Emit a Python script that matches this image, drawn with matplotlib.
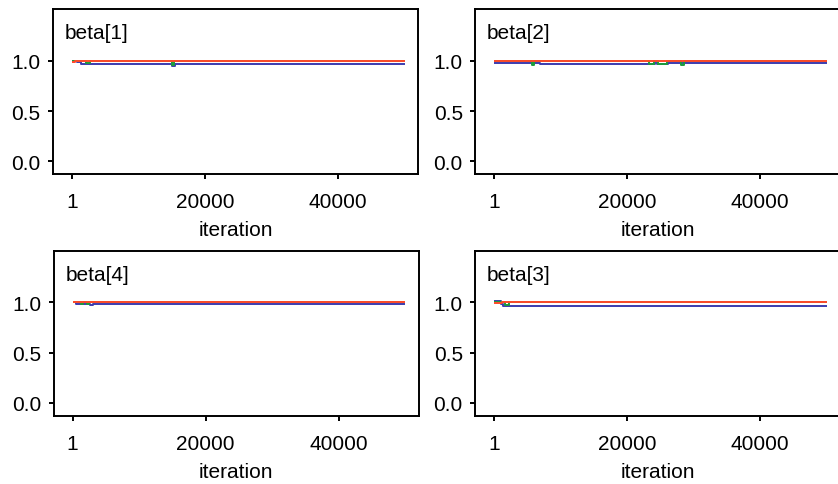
import matplotlib
matplotlib.use('Agg')
import matplotlib.pyplot as plt

plt.rcParams['font.family'] = ['Liberation Sans', 'DejaVu Sans']

# panel order as in the picture: top-left, top-right, bottom-left, bottom-right
panel_names = ['beta[1]', 'beta[2]', 'beta[4]', 'beta[3]']

# step traces: iteration where each value starts, and the value (last point = end of run)
b1_red_it = [1, 400, 50000]
b1_red = [0.985, 1.0, 1.0]
b1_blue_it = [1, 700, 1300, 15100, 15500, 50000]
b1_blue = [1.0, 0.985, 0.967, 0.948, 0.967, 0.967]
b1_green_it = [1, 2100, 2700, 15000, 15400, 50000]
b1_green = [1.0, 0.982, 1.0, 0.958, 1.0, 1.0]

b2_red_it = [1, 50000]
b2_red = [1.0, 1.0]
b2_blue_it = [1, 6900, 24200, 24500, 26200, 50000]
b2_blue = [0.98, 0.965, 1.0, 0.965, 0.98, 0.98]
b2_green_it = [1, 5700, 6000, 23300, 24100, 24600, 26000, 28100, 28500, 50000]
b2_green = [1.0, 0.958, 1.0, 0.967, 1.0, 0.967, 1.0, 0.958, 1.0, 1.0]

b4_red_it = [1, 50000]
b4_red = [1.0, 1.0]
b4_blue_it = [1, 500, 2600, 3000, 50000]
b4_blue = [1.0, 0.985, 0.972, 0.985, 0.985]
b4_green_it = [1, 1300, 1600, 2100, 2400, 50000]
b4_green = [1.0, 0.985, 1.0, 0.985, 1.0, 1.0]

b3_red_it = [1, 1200, 50000]
b3_red = [0.99, 1.0, 1.0]
b3_blue_it = [1, 1000, 1300, 50000]
b3_blue = [1.01, 0.985, 0.965, 0.965]
b3_green_it = [1, 1700, 2300, 50000]
b3_green = [1.0, 0.975, 1.0, 1.0]

traces = [
    [(b1_blue_it, b1_blue), (b1_green_it, b1_green), (b1_red_it, b1_red)],
    [(b2_blue_it, b2_blue), (b2_green_it, b2_green), (b2_red_it, b2_red)],
    [(b4_blue_it, b4_blue), (b4_green_it, b4_green), (b4_red_it, b4_red)],
    [(b3_blue_it, b3_blue), (b3_green_it, b3_green), (b3_red_it, b3_red)],
]
chain_colors = ['#3c3cae', '#1c9c3c', '#ff4a2a']   # blue, green, red (draw order)

x_ticks = [1, 20000, 40000]
y_ticks = [0.0, 0.5, 1.0]

FS = 15

fig = plt.figure(figsize=(8.38, 4.85), dpi=100, facecolor='white')

# axes boxes (fig fractions) — right column runs off the canvas like the source
boxes = [
    [0.0632, 0.6392, 0.4356, 0.3402],
    [0.5668, 0.6392, 0.4356, 0.3402],
    [0.0640, 0.1412, 0.4356, 0.3398],
    [0.5668, 0.1412, 0.4356, 0.3398],
]

for name, box, chains in zip(panel_names, boxes, traces):
    ax = fig.add_axes(box)
    for (its, vals), col in zip(chains, chain_colors):
        ax.plot(its, vals, color=col, lw=1.4, drawstyle='steps-post',
                solid_capstyle='butt')
    ax.set_xlim(-2850, 52000)
    ax.set_ylim(-0.126, 1.514)
    ax.set_xticks(x_ticks)
    ax.set_xticklabels([str(v) for v in x_ticks])
    ax.set_yticks(y_ticks)
    ax.set_yticklabels([f'{v:.1f}' for v in y_ticks])
    ax.tick_params(direction='out', length=3.8, width=1.4, labelsize=FS,
                   color='black')
    ax.tick_params(axis='x', pad=9.5)
    ax.tick_params(axis='y', pad=5)
    for sp in ax.spines.values():
        sp.set_linewidth(1.4)
        sp.set_color('black')
    ax.set_xlabel('iteration', fontsize=FS, labelpad=6.5)
    ax.text(0.033, 0.822, name, transform=ax.transAxes, fontsize=FS,
            ha='left', va='baseline')

fig.savefig('out.png', dpi=100, facecolor='white')
